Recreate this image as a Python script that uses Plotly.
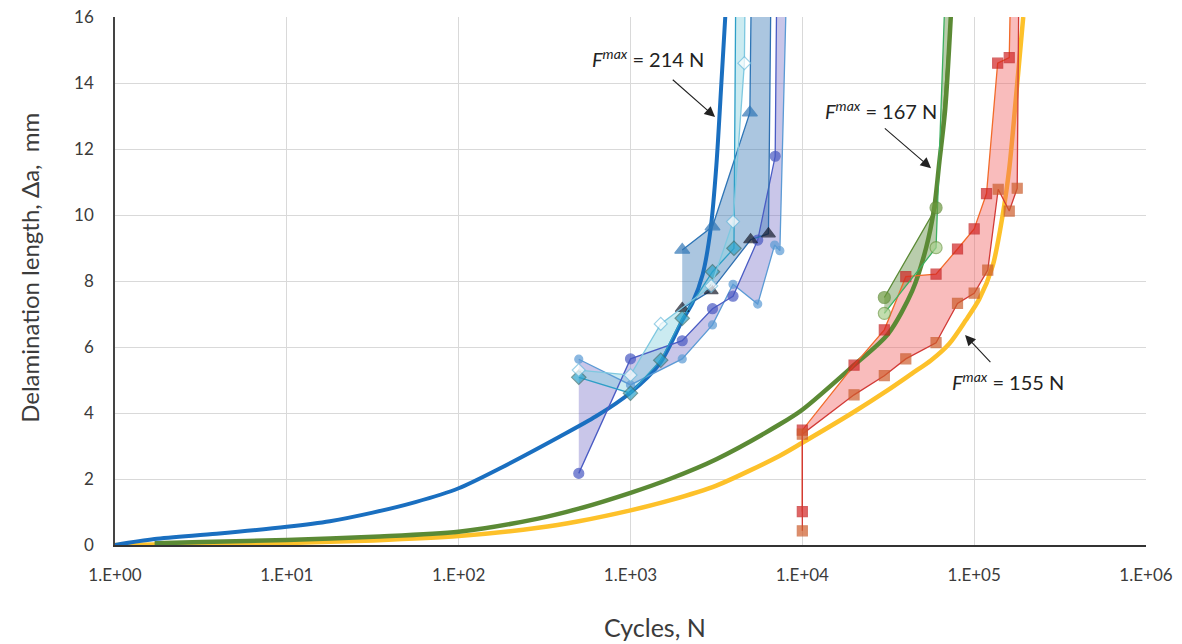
import plotly.graph_objects as go

# ---------------- model curves ----------------
curve214_N = [1, 1.7, 3.9, 10, 17.8, 31.6, 56, 100, 178, 386, 630, 990, 1480, 2000, 2300, 2630, 2930, 3160, 3380, 3560]
curve214_a = [0, 0.18, 0.34, 0.55, 0.72, 0.98, 1.3, 1.72, 2.35, 3.28, 3.9, 4.6, 5.5, 6.8, 7.35, 8.2, 9.6, 11.5, 14.0, 16.0]

curve167_N = [1.7, 3.2, 10, 32, 100, 290, 500, 1000, 1690, 3160, 7350, 10000, 19500, 31600, 43600, 52500, 58500, 62700, 67800, 73100]
curve167_a = [0.05, 0.09, 0.15, 0.25, 0.4, 0.8, 1.1, 1.58, 2.0, 2.6, 3.65, 4.1, 5.4, 6.4, 7.7, 9.0, 10.2, 11.6, 13.2, 16.0]

curve155_N = [1, 3.2, 10, 32, 100, 290, 500, 1000, 1690, 3160, 7350, 10000, 19500, 31600, 43600, 56200, 71600,
              89100, 107000, 128000, 146000, 160000, 174000, 193000]
curve155_a = [0, 0.03, 0.06, 0.14, 0.27, 0.52, 0.72, 1.05, 1.35, 1.8, 2.7, 3.1, 4.0, 4.7, 5.2, 5.6, 6.1,
              6.8, 7.45, 8.45, 9.95, 11.4, 13.4, 16.0]

# ---------------- experiments, 214 N ----------------
openDia_N = [500, 1000, 1500, 2950, 3950, 4600, 4650]
openDia_a = [5.3, 5.15, 6.7, 7.85, 9.8, 14.6, 17]
tealDia_N = [500, 1000, 1500, 2000, 3000, 4000, 4100]
tealDia_a = [5.08, 4.6, 5.6, 6.87, 8.28, 8.99, 17]
blueTri_N = [2000, 3000, 4950, 5050]
blueTri_a = [8.94, 9.65, 13.1, 17]
blackTri_N = [2000, 2950, 5000, 6350, 6570]
blackTri_a = [7.17, 7.71, 9.25, 9.43, 17]
darkCir_N = [500, 1000, 2000, 3000, 3950, 5500, 6950, 7100]
darkCir_a = [2.17, 5.64, 6.19, 7.16, 7.54, 9.24, 11.78, 17]
lightCir_N = [500, 1000, 2000, 3000, 3950, 5500, 6900, 7400, 8100]
lightCir_a = [5.63, 4.85, 5.64, 6.67, 7.9, 7.3, 9.09, 8.92, 17]

# ---------------- experiments, 167 N ----------------
darkGreen_N = [30000, 60000, 74000]
darkGreen_a = [7.5, 10.22, 16.5]
lightGreen_N = [30000, 60000, 67500]
lightGreen_a = [7.02, 9.01, 16.5]

# ---------------- experiments, 155 N ----------------
redSq_N = [10000, 10000, 20000, 30000, 40000, 60000, 80000, 100000, 118000, 137000, 160000, 163000]
redSq_a = [1.01, 3.48, 5.45, 6.52, 8.13, 8.21, 8.97, 9.58, 10.65, 14.6, 14.77, 17]
brownSq_N = [10000, 10000, 20000, 30000, 40000, 60000, 80000, 100000, 120000, 138000, 160000, 178000, 182000]
brownSq_a = [0.43, 3.36, 4.55, 5.13, 5.64, 6.13, 7.32, 7.63, 8.33, 10.78, 10.12, 10.81, 17]

xtick_vals = [1, 10, 100, 1000, 10000, 100000, 1000000]
xtick_text = ["1.E+00", "1.E+01", "1.E+02", "1.E+03", "1.E+04", "1.E+05", "1.E+06"]
ytick_vals = [0, 2, 4, 6, 8, 10, 12, 14, 16]

FONT = "Lato"
TXT = "#3b3b3b"

fig = go.Figure()


def band(xa, ya, xb, yb, color):
    fig.add_trace(go.Scatter(x=list(xa) + list(xb)[::-1], y=list(ya) + list(yb)[::-1],
                             mode="lines", fill="toself", fillcolor=color,
                             line=dict(width=0), hoverinfo="skip", showlegend=False))


def curve(xs, ys, color, width=4):
    fig.add_trace(go.Scatter(x=xs, y=ys, mode="lines",
                             line=dict(color=color, width=width, shape="spline", smoothing=0.8),
                             showlegend=False))


def series(xs, ys, lcolor, msym, msize, mcolor, medge, n_marked=None):
    n = len(xs) if n_marked is None else n_marked
    sizes = [msize] * n + [0] * (len(xs) - n)
    fig.add_trace(go.Scatter(x=xs, y=ys, mode="lines+markers",
                             line=dict(color=lcolor, width=1.3),
                             marker=dict(symbol=msym, size=sizes, color=mcolor,
                                         line=dict(color=medge, width=1.2)),
                             showlegend=False))


# yellow curve under the fills
curve(curve155_N, curve155_a, "#FDC12A", 4.5)

# fills
band(redSq_N, redSq_a, brownSq_N, brownSq_a, "rgba(240,95,95,0.42)")
band(darkGreen_N, darkGreen_a, lightGreen_N, lightGreen_a, "rgba(100,145,70,0.45)")
band(darkCir_N, darkCir_a, lightCir_N, lightCir_a, "rgba(120,112,200,0.40)")
band(blueTri_N, blueTri_a, blackTri_N, blackTri_a, "rgba(55,120,180,0.42)")
band(openDia_N, openDia_a, tealDia_N, tealDia_a, "rgba(140,210,225,0.45)")

# model curves
curve(curve167_N, curve167_a, "#5B8A35", 4.5)
curve(curve214_N, curve214_a, "#1A6FC0", 4)

# experimental series
series(redSq_N, redSq_a, "#F26A2A", "square", 10, "#D42424", "#C42020", len(redSq_N) - 1)
series(brownSq_N, brownSq_a, "#D23A36", "square", 10, "#CF5E2C", "#C85A2A", len(brownSq_N) - 1)
series(lightGreen_N, lightGreen_a, "#3CB060", "circle", 12, "#A9CF8C", "#6E9A45", 2)
series(darkGreen_N, darkGreen_a, "#5B8A35", "circle", 12, "#6C9A3E", "#5E8A34", 2)
series(lightCir_N, lightCir_a, "#5B9BD5", "circle", 8, "#5B9BD5", "#5B9BD5", len(lightCir_N) - 1)
series(darkCir_N, darkCir_a, "#4A5CC4", "circle", 10, "#4858C2", "#4858C2", len(darkCir_N) - 1)
series(blackTri_N, blackTri_a, "#2E6FB0", "triangle-up", 12, "#151A2A", "#151A2A", len(blackTri_N) - 1)
series(blueTri_N, blueTri_a, "#2E75B6", "triangle-up", 13, "#2E75B6", "#2E75B6", len(blueTri_N) - 1)
series(tealDia_N, tealDia_a, "#2E9FC7", "diamond", 11, "#2AA3CC", "#3C7070", len(tealDia_N) - 1)
series(openDia_N, openDia_a, "#7EC8E0", "diamond", 10, "#FFFFFF", "#72BEDE", len(openDia_N) - 1)

# F^max labels with arrows: (tip x [log10 N], tip y, ax, ay, yanchor, startstandoff, text)
labels = [
    (3.492, 12.97, -67, -59, "middle", 11, "<i>F</i><sup><i>max</i></sup> = 214 N"),
    (4.749, 11.42, -50, -43, "bottom", 5, "<i>F</i><sup><i>max</i></sup> = 167 N"),
    (4.947, 6.36, 43, 46, "middle", 6, "<i>F</i><sup><i>max</i></sup> = 155 N"),
]
for tx, ty, dx, dy, yan, sso, t in labels:
    fig.add_annotation(x=tx, y=ty, text=t, showarrow=True, ax=dx, ay=dy,
                       xanchor="center", yanchor=yan,
                       arrowhead=2, arrowsize=1.9, arrowwidth=1.1, arrowcolor="#222",
                       startstandoff=sso,
                       font=dict(family=FONT, size=20, color="#222"))

# axis titles
fig.add_annotation(xref="paper", yref="paper", x=0.524, y=-0.155, text="Cycles, N", showarrow=False,
                   font=dict(family=FONT, size=25, color=TXT), xanchor="center", yanchor="middle")
fig.add_annotation(xref="paper", yref="paper", x=-0.0824, y=0.525, text="Delamination length, \u0394a,  mm",
                   showarrow=False, textangle=-90,
                   font=dict(family=FONT, size=24, color=TXT), xanchor="center", yanchor="middle")

fig.update_layout(
    width=1182, height=644,
    margin=dict(l=115, r=36, t=17, b=99),
    paper_bgcolor="white", plot_bgcolor="white",
    font=dict(family=FONT, color=TXT),
    showlegend=False,
    xaxis=dict(type="log", range=[0, 6], tickvals=xtick_vals, ticktext=xtick_text,
               showgrid=True, gridcolor="#D9D9D9", gridwidth=1,
               showline=True, linecolor="#333", linewidth=2, zeroline=False,
               ticks="", tickfont=dict(family=FONT, size=17, color=TXT), ticklabelstandoff=14,
               automargin=False),
    yaxis=dict(range=[0, 16], tickvals=ytick_vals,
               showgrid=True, gridcolor="#D9D9D9", gridwidth=1,
               showline=True, linecolor="#444", linewidth=1.5, zeroline=False,
               ticks="", tickfont=dict(family=FONT, size=17, color=TXT), ticklabelstandoff=16,
               automargin=False),
)

fig.write_html("out.html")
